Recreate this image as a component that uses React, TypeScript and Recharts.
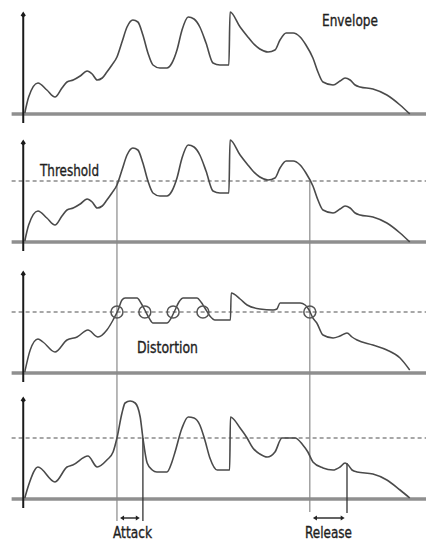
import React from 'react';
import { LineChart, Line, XAxis, YAxis, ReferenceLine, ReferenceDot } from 'recharts';

// time axis (arbitrary units, 0 = signal start, 100 = signal end)
const TIME_DOMAIN = [-6, 104];

// Envelope (input signal level)
const ENVELOPE_TIME = [0.4, 1.4, 3.8, 6.1, 8.2, 10.0, 11.3, 12.9, 14.7, 16.5, 17.8, 19.1, 20.4, 21.6, 22.9, 24.2, 25.5, 26.8, 28.3, 29.6, 30.9, 32.2, 33.5, 35.3, 37.1, 38.4, 39.7, 41.0, 42.6, 44.1, 45.6, 47.2, 49.0, 50.8, 53.1, 53.4, 56.0, 57.8, 59.3, 61.1, 63.2, 65.0, 66.3, 67.9, 69.7, 71.5, 73.0, 74.8, 76.1, 77.4, 80.0, 81.8, 83.1, 84.4, 85.7, 87.0, 90.3, 93.9, 97.3, 99.8];
const ENVELOPE_LEVEL = [1, 17, 31, 24, 17, 26, 32, 34, 38, 43, 40, 34, 36, 42, 49, 57, 72, 87, 94, 92, 79, 61, 49, 46, 46, 51, 64, 84, 97, 95, 87, 71, 51, 49, 49, 102, 87, 78, 71, 65, 62, 64, 74, 81, 81, 77, 69, 56, 42, 32, 29, 33, 36, 34, 29, 27, 25, 19, 9, 0];

// Hard-limited signal (distortion)
const LIMITED_TIME = [0.4, 1.8, 3.8, 5.1, 8.2, 11.3, 13.9, 16.7, 19.3, 21.6, 23.2, 24.5, 25.5, 26.3, 29.4, 30.4, 31.4, 32.5, 33.5, 37.1, 38.2, 39.2, 40.2, 41.3, 44.9, 45.9, 46.9, 48.2, 49.5, 53.5, 53.7, 56.0, 57.8, 61.1, 64.5, 65.5, 66.3, 71.5, 72.8, 73.8, 74.8, 75.8, 77.4, 80.0, 81.8, 83.6, 84.9, 86.2, 90.3, 93.9, 97.3, 99.8];
const LIMITED_LEVEL = [1, 23, 34, 31, 21, 33, 36, 43, 36, 43, 53, 63, 73, 75, 75, 70, 63, 55, 50, 50, 55, 63, 71, 75, 75, 71, 65, 57, 53, 53, 80, 74, 68, 64, 63, 64, 70, 70, 68, 63, 55, 50, 38, 35, 37, 40, 36, 33, 28, 23, 15, 3];

// Compressed output signal
const OUTPUT_TIME = [0.4, 1.4, 3.8, 8.2, 11.3, 12.8, 16.7, 19.1, 21.6, 23.2, 24.2, 25.5, 26.3, 27.6, 28.9, 30.2, 30.9, 32.0, 33.3, 34.5, 37.1, 38.4, 39.2, 41.0, 42.6, 44.1, 45.6, 46.9, 48.2, 50.1, 53.3, 53.5, 56.0, 57.8, 59.3, 61.1, 63.0, 65.0, 66.8, 70.2, 72.2, 73.5, 74.8, 77.4, 80.0, 81.8, 83.1, 83.9, 84.9, 86.2, 90.3, 93.9, 97.3, 99.8];
const OUTPUT_LEVEL = [1, 14, 32, 17, 32, 34, 43, 32, 39, 47, 61, 86, 96, 98, 96, 82, 61, 36, 29, 27, 27, 37, 47, 71, 82, 81, 74, 59, 41, 29, 29, 82, 71, 61, 51, 45, 42, 47, 61, 61, 54, 47, 37, 31, 29, 32, 36, 34, 29, 27, 25, 19, 9, 1];

const THRESHOLD = 61;
const ATTACK_START = 24.2;
const ATTACK_END = 30.9;
const RELEASE_START = 74.0;
const RELEASE_END = 83.6;
const RELEASE_END_LEVEL = 36;
const DISTORTION_POINTS = [24.2, 31.4, 38.7, 46.4, 74.0];

const zip = (ts: number[], vs: number[]) => ts.map((t, i) => ({ t, v: vs[i] }));
const envelopeData = zip(ENVELOPE_TIME, ENVELOPE_LEVEL);
const limitedData = zip(LIMITED_TIME, LIMITED_LEVEL);
const outputData = zip(OUTPUT_TIME, OUTPUT_LEVEL);

const CURVE = '#4a4a4a';
const GUIDE = '#8a8a8a';
const FONT = '"DejaVu Sans Condensed", "DejaVu Sans", sans-serif';

const ArrowHead = (props: any) => {
  const { cx, cy } = props;
  return <polygon points={`${cx},${cy - 3.5} ${cx + 2.6},${cy + 0.5} ${cx},${cy + 2.5} ${cx - 2.6},${cy + 0.5}`} fill="#1a1a1a" />;
};

const DoubleArrow = (props: any) => {
  const { x1, x2, y1 } = props;
  const l = Math.min(x1, x2);
  const r = Math.max(x1, x2);
  return (
    <g>
      <line x1={l + 2} y1={y1} x2={r - 2} y2={y1} stroke="#222" strokeWidth={1.4} />
      <polygon points={`${l},${y1} ${l + 4},${y1 - 2.4} ${l + 4},${y1 + 2.4}`} fill="#222" />
      <polygon points={`${r},${y1} ${r - 4},${y1 - 2.4} ${r - 4},${y1 + 2.4}`} fill="#222" />
    </g>
  );
};

function Panel({ top, height, domain, children }: { top: number; height: number; domain: number[]; children: React.ReactNode }) {
  return (
    <div style={{ position: 'absolute', left: 0, top, width: 426, height }}>
      <LineChart width={426} height={height} margin={{ top: 0, right: 0, bottom: 0, left: 0 }}>
        <XAxis type="number" dataKey="t" domain={TIME_DOMAIN} hide allowDataOverflow />
        <YAxis type="number" domain={domain} hide allowDataOverflow />
        {children}
      </LineChart>
    </div>
  );
}

const baseline = (
  <ReferenceLine segment={[{ x: -3, y: 0 }, { x: 104, y: 0 }]} stroke="#8f8f8f" strokeWidth={3.5} ifOverflow="visible" />
);
const threshold = (
  <ReferenceLine segment={[{ x: -3, y: THRESHOLD }, { x: 104, y: THRESHOLD }]} stroke="#8a8a8a" strokeWidth={1.3} strokeDasharray="4 3" ifOverflow="visible" />
);
const axisLine = (
  <ReferenceLine segment={[{ x: 0, y: -9 }, { x: 0, y: 98 }]} stroke="#1a1a1a" strokeWidth={2} ifOverflow="visible" />
);
const axisHead = <ReferenceDot x={0} y={99} r={3} shape={ArrowHead} ifOverflow="visible" />;

const curveProps = { dataKey: 'v', type: 'monotone' as const, stroke: CURVE, dot: false, activeDot: false, isAnimationActive: false };

export default function App() {
  return (
    <div style={{ position: 'absolute', left: 0, top: 0, width: 426, height: 543, background: '#fff', overflow: 'hidden' }}>
      <Panel top={0} height={128} domain={[-14, 114]}>
        {baseline}
        {axisLine}
        {axisHead}
        <Line data={envelopeData} strokeWidth={1.6} {...curveProps} />
      </Panel>
      <Panel top={128} height={128} domain={[-14, 114]}>
        {baseline}
        {threshold}
        {axisLine}
        {axisHead}
        <ReferenceLine segment={[{ x: ATTACK_START, y: THRESHOLD }, { x: ATTACK_START, y: -14 }]} stroke={GUIDE} strokeWidth={1.2} ifOverflow="visible" />
        <ReferenceLine segment={[{ x: RELEASE_START, y: THRESHOLD }, { x: RELEASE_START, y: -14 }]} stroke={GUIDE} strokeWidth={1.2} ifOverflow="visible" />
        <Line data={envelopeData} strokeWidth={1.6} {...curveProps} />
      </Panel>
      <Panel top={256} height={128} domain={[-11, 117]}>
        {baseline}
        {threshold}
        {axisLine}
        {axisHead}
        <ReferenceLine segment={[{ x: ATTACK_START, y: 117 }, { x: ATTACK_START, y: -11 }]} stroke={GUIDE} strokeWidth={1.2} ifOverflow="visible" />
        <ReferenceLine segment={[{ x: RELEASE_START, y: 117 }, { x: RELEASE_START, y: -11 }]} stroke={GUIDE} strokeWidth={1.2} ifOverflow="visible" />
        <Line data={limitedData} strokeWidth={1.5} {...curveProps} />
        {DISTORTION_POINTS.map((t) => (
          <ReferenceDot key={t} x={t} y={THRESHOLD} r={6} fill="none" stroke="#555" strokeWidth={1.5} ifOverflow="visible" />
        ))}
      </Panel>
      <Panel top={384} height={159} domain={[-44, 115]}>
        {baseline}
        {threshold}
        {axisLine}
        {axisHead}
        <ReferenceLine segment={[{ x: ATTACK_START, y: 115 }, { x: ATTACK_START, y: -22 }]} stroke={GUIDE} strokeWidth={1.2} ifOverflow="visible" />
        <ReferenceLine segment={[{ x: RELEASE_START, y: 115 }, { x: RELEASE_START, y: -13 }]} stroke={GUIDE} strokeWidth={1.2} ifOverflow="visible" />
        <ReferenceLine segment={[{ x: ATTACK_END, y: THRESHOLD }, { x: ATTACK_END, y: -22 }]} stroke="#333" strokeWidth={1.3} ifOverflow="visible" />
        <ReferenceLine segment={[{ x: RELEASE_END, y: RELEASE_END_LEVEL }, { x: RELEASE_END, y: -14 }]} stroke="#333" strokeWidth={1.3} ifOverflow="visible" />
        <ReferenceLine segment={[{ x: ATTACK_START + 0.8, y: -19 }, { x: ATTACK_END - 0.8, y: -19 }]} shape={DoubleArrow} ifOverflow="visible" />
        <ReferenceLine segment={[{ x: RELEASE_START + 0.8, y: -19 }, { x: RELEASE_END - 0.6, y: -19 }]} shape={DoubleArrow} ifOverflow="visible" />
        <Line data={outputData} strokeWidth={1.6} {...curveProps} />
      </Panel>
      <svg width={426} height={543} style={{ position: 'absolute', left: 0, top: 0, pointerEvents: 'none' }}>
        <g fontFamily={FONT} fontSize={16.5} fill="#1e1e1e" stroke="#1e1e1e" strokeWidth={0.35}>
          <text x={322} y={26} textLength={56} lengthAdjust="spacingAndGlyphs">Envelope</text>
          <text x={40} y={176} textLength={59} lengthAdjust="spacingAndGlyphs">Threshold</text>
          <text x={137} y={353} textLength={61} lengthAdjust="spacingAndGlyphs">Distortion</text>
          <text x={113} y={538} textLength={39} lengthAdjust="spacingAndGlyphs">Attack</text>
          <text x={305} y={538} textLength={47} lengthAdjust="spacingAndGlyphs">Release</text>
        </g>
      </svg>
    </div>
  );
}
